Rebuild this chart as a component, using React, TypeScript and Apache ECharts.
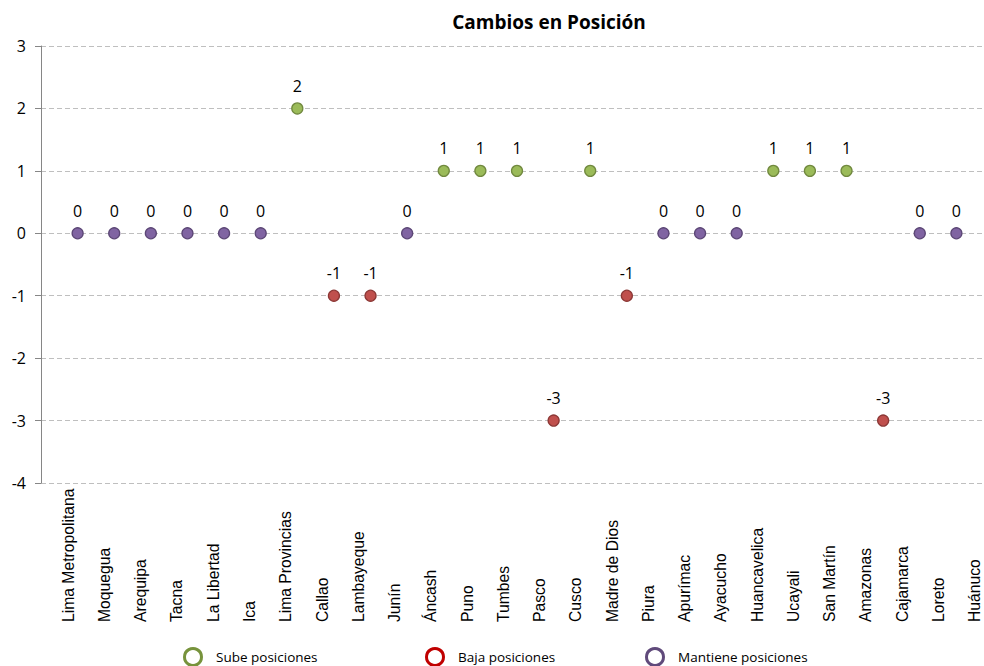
import React, { useEffect, useRef } from 'react';
import * as echarts from 'echarts';

const regions: string[] = [
  'Lima Metropolitana', 'Moquegua', 'Arequipa', 'Tacna', 'La Libertad', 'Ica',
  'Lima Provincias', 'Callao', 'Lambayeque', 'Junín', 'Áncash', 'Puno', 'Tumbes',
  'Pasco', 'Cusco', 'Madre de Dios', 'Piura', 'Apurímac', 'Ayacucho', 'Huancavelica',
  'Ucayali', 'San Martín', 'Amazonas', 'Cajamarca', 'Loreto', 'Huánuco',
];
const changes: (number | null)[] = [
  0, 0, 0, 0, 0, 0,
  2, -1, -1, 0, 1, 1, 1,
  -3, 1, -1, 0, 0, 0, 1,
  1, 1, -3, 0, 0, null,
];
const yMin = -4;
const yMax = 3;
const seriesNames = ['Sube posiciones', 'Baja posiciones', 'Mantiene posiciones'];
const fillColors = ['#9BBB59', '#C0504D', '#8064A2'];
const edgeColors = ['#71893F', '#8C3836', '#5C4776'];
const legendEdgeColors = ['#77933C', '#C00000', '#604A7B'];
const legendLefts = [183, 425, 645];

function groupOf(v: number): number {
  if (v > 0) return 0;
  if (v < 0) return 1;
  return 2;
}

export default function App() {
  const ref = useRef<HTMLDivElement>(null);
  useEffect(() => {
    if (!ref.current) return;
    const chart = echarts.init(ref.current, null, { renderer: 'svg' });
    const seriesData: any[][] = [[], [], []];
    changes.forEach((v, i) => {
      if (v === null) return;
      seriesData[groupOf(v)].push({ name: regions[i], value: [i + 1, v] });
    });
    const numFont = 'Open Sans';
    chart.setOption({
      animation: false,
      title: {
        text: 'Cambios en Posición',
        left: 549,
        top: 12,
        textAlign: 'center',
        padding: 0,
        textStyle: { fontFamily: numFont, fontWeight: 'bold', fontSize: 19, color: '#000' },
      },
      grid: [
        { left: 41, top: 46, right: 7, bottom: 183, containLabel: false },
        { left: 50.1, top: 46, right: 7.3, bottom: 183, containLabel: false },
      ],
      xAxis: [
        {
          type: 'value',
          gridIndex: 0,
          min: 0,
          max: regions.length,
          interval: 1,
          show: false,
        },
        {
          type: 'category',
          gridIndex: 1,
          data: regions,
          boundaryGap: true,
          splitLine: { show: false },
          axisLine: { show: false },
          axisTick: { show: false },
          axisLabel: {
            interval: 0,
            rotate: 90,
            align: 'left',
            margin: 139,
            fontFamily: 'Liberation Sans',
            fontSize: 15.7,
            color: '#000',
          },
        },
      ],
      yAxis: [
        {
          type: 'value',
          gridIndex: 0,
          min: yMin,
          max: yMax,
          interval: 1,
          axisLine: { show: true, lineStyle: { color: '#868686', width: 1 } },
          axisTick: { show: true, inside: false, length: 6, lineStyle: { color: '#868686' } },
          splitLine: { show: true, lineStyle: { color: '#BFBFBF', type: [5, 3], width: 1 } },
          axisLabel: { margin: 15, fontFamily: numFont, fontSize: 16, color: '#000' },
        },
        {
          type: 'value',
          gridIndex: 1,
          min: yMin,
          max: yMax,
          interval: 1,
          show: false,
        },
      ],
      legend: seriesNames.map((n, i) => ({
        data: [{ name: n, itemStyle: { color: 'rgba(0,0,0,0)', borderColor: legendEdgeColors[i], borderWidth: 3 } }],
        left: legendLefts[i],
        top: 647,
        padding: 0,
        itemWidth: 36,
        itemHeight: 17,
        icon: 'circle',
        selectedMode: false,
        textStyle: { fontFamily: numFont, fontSize: 13.5, color: '#000' },
      })),
      series: seriesNames.map((n, i) => ({
        type: 'scatter',
        name: n,
        xAxisIndex: 0,
        yAxisIndex: 0,
        symbol: 'circle',
        symbolSize: 11,
        data: seriesData[i],
        itemStyle: { color: fillColors[i], borderColor: edgeColors[i], borderWidth: 1.3, opacity: 1 },
        label: {
          show: true,
          position: 'top',
          distance: 8.5,
          fontFamily: numFont,
          fontSize: 16,
          color: '#000',
          formatter: (p: any) => String(p.value[1]),
        },
        emphasis: { disabled: true },
      })),
    });
    return () => chart.dispose();
  }, []);
  return (
    <div
      ref={ref}
      style={{ position: 'fixed', left: 0, top: 0, width: 1000, height: 666, background: '#fff' }}
    />
  );
}
